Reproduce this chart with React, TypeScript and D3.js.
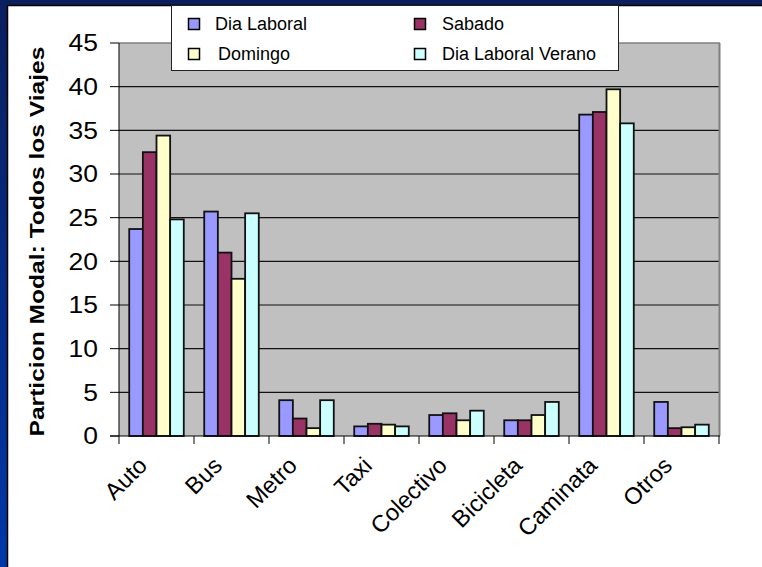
import React from "react";
import * as d3 from "d3";

const categories = ["Auto", "Bus", "Metro", "Taxi", "Colectivo", "Bicicleta", "Caminata", "Otros"];
const seriesNames = ["Dia Laboral", "Sabado", "Domingo", "Dia Laboral Verano"];
const diaLaboral = [23.7, 25.7, 4.1, 1.1, 2.4, 1.8, 36.8, 3.9];
const sabado = [32.5, 21.0, 2.0, 1.4, 2.6, 1.8, 37.1, 0.9];
const domingo = [34.4, 18.0, 0.9, 1.3, 1.8, 2.4, 39.7, 1.0];
const verano = [24.8, 25.5, 4.1, 1.1, 2.9, 3.9, 35.8, 1.3];
const yTicks = [0, 5, 10, 15, 20, 25, 30, 35, 40, 45];
const colors = ["#9999FF", "#993366", "#FFFFCC", "#CCFFFF"];

const W = 762;
const H = 567;

export default function App() {
  const series = [diaLaboral, sabado, domingo, verano];
  const x = d3.scaleBand<string>().domain(categories).range([119, 719]).paddingInner(0).paddingOuter(0);
  const xi = d3
    .scaleBand<string>()
    .domain(seriesNames)
    .range([0, x.bandwidth()])
    .paddingInner(0)
    .paddingOuter(0.75);
  const y = d3.scaleLinear().domain([0, 45]).range([436, 43]);
  const font = "'Liberation Sans', Arial, sans-serif";

  const legendPos = [
    { mx: 188.5, my: 18.5, tx: 215, ty: 30 },
    { mx: 414.5, my: 18.5, tx: 442, ty: 30 },
    { mx: 188.5, my: 48.5, tx: 218, ty: 60 },
    { mx: 414.5, my: 48.5, tx: 442, ty: 60 },
  ];

  return (
    <svg
      width={W}
      height={H}
      style={{ position: "absolute", left: 0, top: 0, display: "block" }}
      fontFamily={font}
    >
      <defs>
        <linearGradient id="leftBlue" x1="0" y1="0" x2="0" y2="1">
          <stop offset="0" stopColor="#0a1f5e" />
          <stop offset="1" stopColor="#0038a8" />
        </linearGradient>
      </defs>
      <rect x={0} y={0} width={W} height={H} fill="#ffffff" />
      <rect x={0} y={0} width={W} height={6} fill="#0a1f5c" />
      <rect x={0} y={0} width={7} height={H} fill="url(#leftBlue)" />
      <line x1={7.5} y1={5.5} x2={W} y2={5.5} stroke="#000" strokeWidth={1.5} />
      <line x1={7.5} y1={5.5} x2={7.5} y2={H} stroke="#000" strokeWidth={1.5} />

      {/* plot area */}
      <rect x={119} y={y(45)} width={600} height={y(0) - y(45)} fill="#C0C0C0" />
      {yTicks
        .filter((t) => t > 0 && t < 45)
        .map((t) => (
          <line key={t} x1={119} x2={719} y1={y(t)} y2={y(t)} stroke="#111" strokeWidth={1.2} />
        ))}
      <line x1={119} x2={720} y1={y(45)} y2={y(45)} stroke="#808080" strokeWidth={1.5} />
      <line x1={719.5} x2={719.5} y1={y(45)} y2={y(0)} stroke="#808080" strokeWidth={2} />

      {/* bars */}
      {categories.map((c, ci) =>
        series.map((s, si) => (
          <rect
            key={c + si}
            x={(x(c) as number) + (xi(seriesNames[si]) as number)}
            y={y(s[ci])}
            width={xi.bandwidth()}
            height={y(0) - y(s[ci])}
            fill={colors[si]}
            stroke="#111"
            strokeWidth={1.8}
          />
        ))
      )}

      {/* axes */}
      <line x1={119} x2={119} y1={y(45)} y2={y(0)} stroke="#000" strokeWidth={1} />
      <line x1={110} x2={720} y1={y(0)} y2={y(0)} stroke="#000" strokeWidth={1} />
      {yTicks.map((t) => (
        <g key={t}>
          <line x1={110} x2={119} y1={y(t)} y2={y(t)} stroke="#000" strokeWidth={1} />
          <g transform={`translate(98,${y(t)}) scale(1.15,1)`}>
            <text textAnchor="end" dy="0.36em" fontSize={23} fill="#000">
              {t}
            </text>
          </g>
        </g>
      ))}
      {categories.map((c) => (
        <line
          key={c}
          x1={x(c) as number}
          x2={x(c) as number}
          y1={y(0)}
          y2={y(0) + 8}
          stroke="#000"
          strokeWidth={1}
        />
      ))}
      <line x1={719} x2={719} y1={y(0)} y2={y(0) + 8} stroke="#000" strokeWidth={1} />
      {categories.map((c) => {
        const cx = (x(c) as number) + x.bandwidth() / 2 - 8;
        return (
          <text
            key={c}
            transform={`translate(${cx},467) rotate(-45)`}
            textAnchor="end"
            fontSize={23.5}
            fill="#000"
          >
            {c}
          </text>
        );
      })}

      {/* y title */}
      <text
        transform={`translate(44,${(y(0) + y(45)) / 2 + 2}) rotate(-90)`}
        textAnchor="middle"
        fontSize={21}
        fontWeight="bold"
        fill="#000"
        textLength={390}
        lengthAdjust="spacingAndGlyphs"
      >
        Particion Modal: Todos los Viajes
      </text>

      {/* legend */}
      <rect x={171.5} y={5.5} width={447} height={65} fill="#fff" stroke="#222" strokeWidth={1} />
      {seriesNames.map((n, i) => (
        <g key={n}>
          <rect
            x={legendPos[i].mx}
            y={legendPos[i].my}
            width={11}
            height={11}
            fill={colors[i]}
            stroke="#000"
            strokeWidth={1.5}
          />
          <text x={legendPos[i].tx} y={legendPos[i].ty} fontSize={18} fill="#000">
            {n}
          </text>
        </g>
      ))}
    </svg>
  );
}
